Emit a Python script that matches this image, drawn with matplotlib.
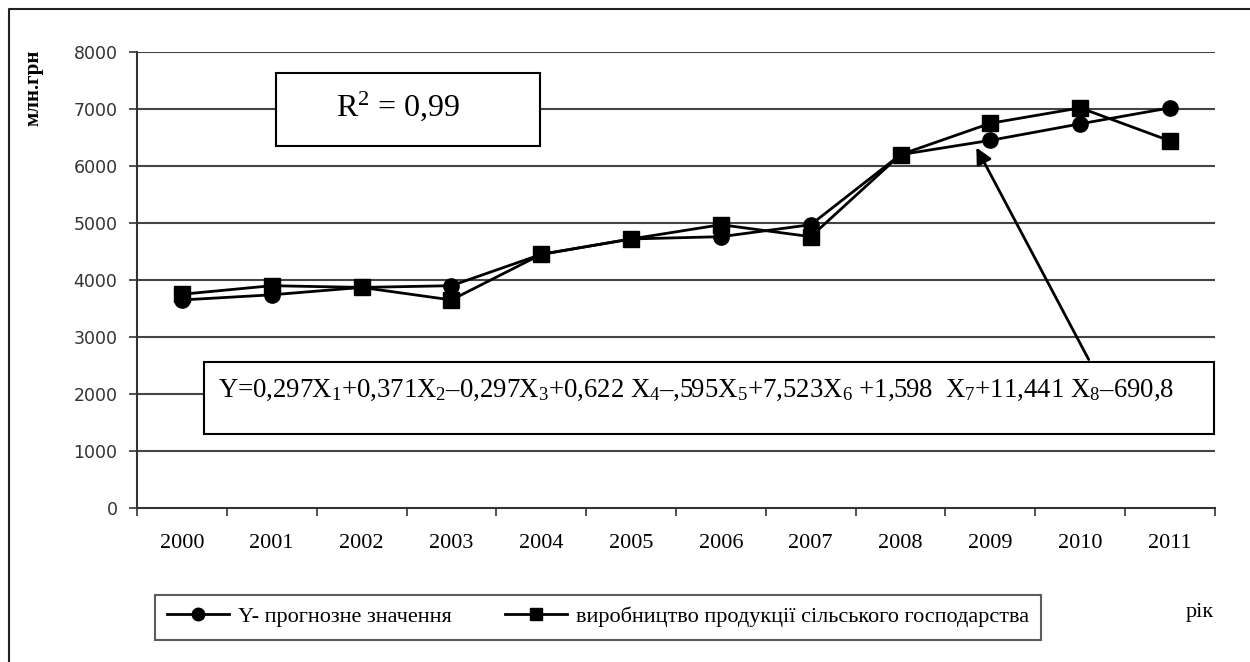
import matplotlib
matplotlib.use("Agg")
import matplotlib.pyplot as plt
from matplotlib.patches import Rectangle
from matplotlib.lines import Line2D

# Data
years = ['2000', '2001', '2002', '2003', '2004', '2005', '2006', '2007', '2008', '2009', '2010', '2011']
forecast = [3650, 3740, 3870, 3900, 4450, 4720, 4760, 4970, 6200, 6450, 6740, 7020]
production = [3750, 3900, 3870, 3650, 4450, 4720, 4970, 4760, 6200, 6750, 7020, 6440]
y_ticks = [0, 1000, 2000, 3000, 4000, 5000, 6000, 7000, 8000]

plt.rcParams['mathtext.fontset'] = 'custom'
plt.rcParams['mathtext.rm'] = 'Liberation Serif'
plt.rcParams['mathtext.it'] = 'Liberation Serif'

W, H = 1250, 662
fig = plt.figure(figsize=(12.5, 6.62), dpi=100)


def fx(px):
    return px / W


def fy(py):
    return 1 - py / H


# outer frame (only left and top edges are visible)
fig.lines.append(Line2D([fx(9), fx(9), fx(1250)], [fy(662), fy(9), fy(9)], transform=fig.transFigure,
                        color='#222222', lw=1.5))

ax = fig.add_axes([fx(137), fy(508), fx(1215 - 137), fy(52) - fy(508)])
x = list(range(len(years)))
ax.plot(x, forecast, color='black', lw=2, marker='o', ms=11, label='Y- прогнозне значення', zorder=3)
ax.plot(x, production, color='black', lw=2, marker='s', ms=11,
        label='виробництво продукції сільського господарства', zorder=3)

ax.set_xlim(-0.5, len(years) - 0.5)
ax.set_ylim(0, 8000)
ax.set_yticks(y_ticks)
ax.set_yticklabels([str(v) for v in y_ticks], fontsize=12.5, color='#333333', family='DejaVu Sans')
ax.set_xticks(x)
ax.set_xticklabels(years, fontsize=16, family='Liberation Serif')
ax.set_xticks([i - 0.5 for i in range(len(years) + 1)], minor=True)
ax.tick_params(axis='x', which='major', length=0, pad=19)
ax.tick_params(axis='x', which='minor', length=6, width=1.2, color='#333333')
ax.tick_params(axis='y', length=6, width=1.2, color='#333333', pad=8)
for v in y_ticks[1:]:
    ax.axhline(v, color='#444444', lw=1.5, zorder=1)
for side in ['top', 'right']:
    ax.spines[side].set_visible(False)
for side in ['left', 'bottom']:
    ax.spines[side].set_color('#333333')
    ax.spines[side].set_linewidth(1.5)

fig.text(fx(33), fy(88), 'млн.грн', rotation=90, ha='center', va='center',
         fontsize=15, fontweight='bold', family='Liberation Serif')

# R^2 box
fig.patches.append(Rectangle((fx(276), fy(146)), fx(540 - 276), fy(73) - fy(146), transform=fig.transFigure,
                             fc='white', ec='black', lw=1.5, zorder=5))
fig.text(fx(398), fy(106), '$\\mathrm{R}^2$ = 0,99', ha='center', va='center', fontsize=23,
         family='Liberation Serif', zorder=6)

# arrow
ax.annotate('', xy=(fx(975), fy(145)), xycoords='figure fraction',
            xytext=(fx(1090), fy(362)), textcoords='figure fraction',
            arrowprops=dict(arrowstyle='-|>', color='black', lw=2, mutation_scale=24), zorder=6)

# equation box
fig.patches.append(Rectangle((fx(204), fy(434)), fx(1214 - 204), fy(362) - fy(434), transform=fig.transFigure,
                             fc='white', ec='black', lw=1.5, zorder=5))
eq = ('Y=0,297X$_1$+0,371X$_2$\u20130,297X$_3$+0,622 X$_4$\u2013,595X$_5$+7,523X$_6$ '
      '+1,598  X$_7$+11,441 X$_8$\u2013690,8')
fig.text(fx(218), fy(390), eq, ha='left', va='center', fontsize=19.3, family='Liberation Serif', zorder=6)

# legend
handles = [Line2D([], [], color='black', lw=2, marker='o', ms=9),
           Line2D([], [], color='black', lw=2, marker='s', ms=9)]
leg = fig.legend(handles, ['Y- прогнозне значення', 'виробництво продукції сільського господарства'],
                 ncol=2, loc='center', bbox_to_anchor=(fx(598), fy(617)), frameon=True, fancybox=False,
                 prop={'family': 'Liberation Serif', 'size': 16}, handlelength=2.8, handletextpad=0.4,
                 columnspacing=2.4, borderpad=0.55)
leg.get_frame().set_edgecolor('#333333')
leg.get_frame().set_linewidth(1.5)

fig.text(fx(1200), fy(612), 'рік', ha='center', va='center', fontsize=16, family='Liberation Serif')

fig.savefig('out.png', dpi=100, facecolor='white')
